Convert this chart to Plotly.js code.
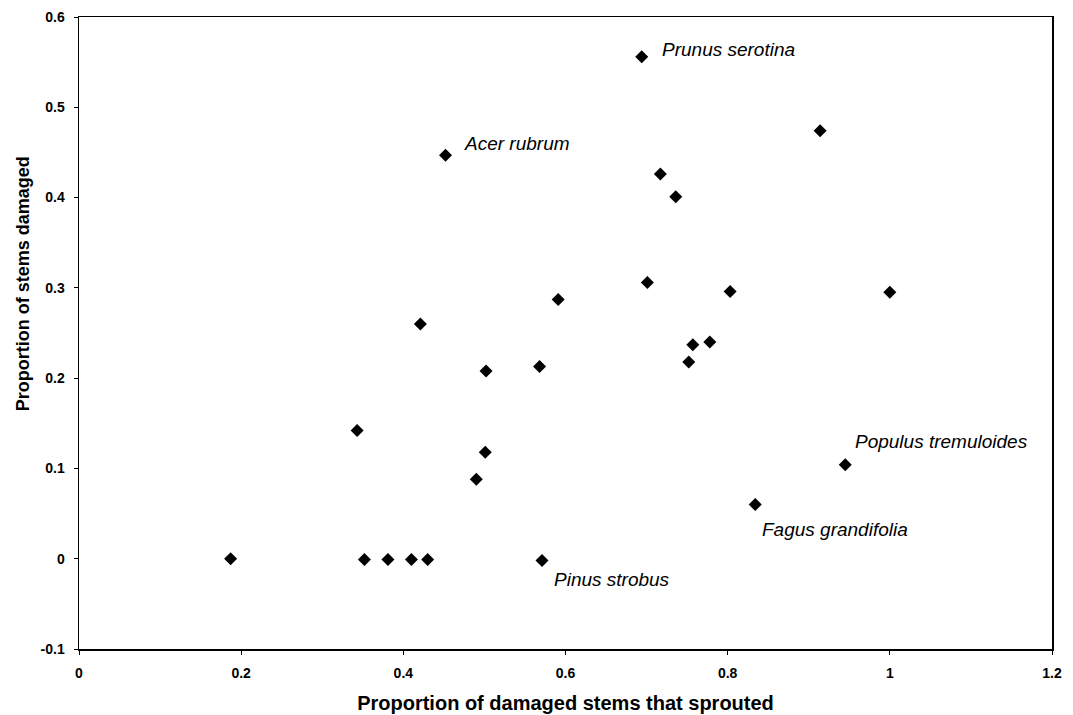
<!DOCTYPE html>
<html>
<head>
<meta charset="utf-8">
<script src="https://cdn.plot.ly/plotly-3.0.1.min.js"></script>
<style>html,body{margin:0;padding:0;background:#fff;}#chart{width:1073px;height:715px;}</style>
</head>
<body>
<div id="chart"></div>
<script>
// Proportion of damaged stems that sprouted (x) vs proportion of stems damaged (y)
const sprouted = [0.187, 0.352, 0.381, 0.41, 0.43, 0.571, 0.343, 0.452, 0.694, 0.914, 0.717, 0.736, 0.701, 0.803, 1.0, 0.591, 0.421, 0.502, 0.568, 0.752, 0.757, 0.778, 0.501, 0.49, 0.945, 0.834];
const damaged  = [0.0, -0.001, -0.001, -0.001, -0.001, -0.002, 0.142, 0.447, 0.556, 0.474, 0.426, 0.401, 0.306, 0.296, 0.295, 0.287, 0.26, 0.208, 0.213, 0.218, 0.237, 0.240, 0.118, 0.088, 0.104, 0.060];

// Species labels: index of the labelled point and its name
const labelIndex = [8, 7, 5, 24, 25];
const labelText  = ["Prunus serotina", "Acer rubrum", "Pinus strobus", "Populus tremuloides", "Fagus grandifolia"];
const labelDx = [18, 16, 10, 8, 5];
const labelDy = [7, 12, -19, 23, -25];

const xTicks = [0, 0.2, 0.4, 0.6, 0.8, 1, 1.2];
const xTickText = ["0", "0.2", "0.4", "0.6", "0.8", "1", "1.2"];
const yTicks = [-0.1, 0, 0.1, 0.2, 0.3, 0.4, 0.5, 0.6];
const yTickText = ["-0.1", "0", "0.1", "0.2", "0.3", "0.4", "0.5", "0.6"];

const font = "Liberation Sans, Arial, sans-serif";

const trace = {
  x: sprouted, y: damaged, type: "scatter", mode: "markers",
  marker: {symbol: "diamond", size: 10, color: "#000"},
  hoverinfo: "x+y"
};

const annotations = labelIndex.map((idx, k) => ({
  x: sprouted[idx], y: damaged[idx], xref: "x", yref: "y",
  text: "<i>" + labelText[k] + "</i>", showarrow: false,
  xanchor: "left", yanchor: "middle",
  xshift: labelDx[k], yshift: labelDy[k],
  font: {family: font, size: 19, color: "#000"}
}));

annotations.push({
  xref: "paper", yref: "paper", x: -0.058, y: 0.578,
  text: "<b>Proportion of stems damaged</b>", textangle: -90,
  showarrow: false, xanchor: "center", yanchor: "middle",
  font: {family: font, size: 18, color: "#000"}
});

const layout = {
  width: 1073, height: 715,
  margin: {l: 79, r: 21, t: 17, b: 66},
  paper_bgcolor: "#fff", plot_bgcolor: "#fff",
  showlegend: false,
  font: {family: font, color: "#000"},
  xaxis: {
    range: [0, 1.2], tickvals: xTicks, ticktext: xTickText,
    showgrid: false, zeroline: false,
    showline: true, linecolor: "#000", linewidth: 1.5, mirror: true,
    ticks: "outside", ticklen: 4, tickcolor: "#000", tickwidth: 1,
    tickfont: {family: font, size: 14, color: "#000", weight: "bold"},
    ticklabelstandoff: 7,
    title: {text: "<b>Proportion of damaged stems that sprouted</b>", font: {family: font, size: 20, color: "#000"}, standoff: 15}
  },
  yaxis: {
    range: [-0.1, 0.6], tickvals: yTicks, ticktext: yTickText,
    showgrid: false, zeroline: false,
    showline: true, linecolor: "#000", linewidth: 1.5, mirror: true,
    ticks: "outside", ticklen: 4, tickcolor: "#000", tickwidth: 1,
    tickfont: {family: font, size: 14, color: "#000", weight: "bold"},
    ticklabelstandoff: 6
  },
  annotations: annotations
};

Plotly.newPlot("chart", [trace], layout, {displayModeBar: false, staticPlot: true});
</script>
</body>
</html>
